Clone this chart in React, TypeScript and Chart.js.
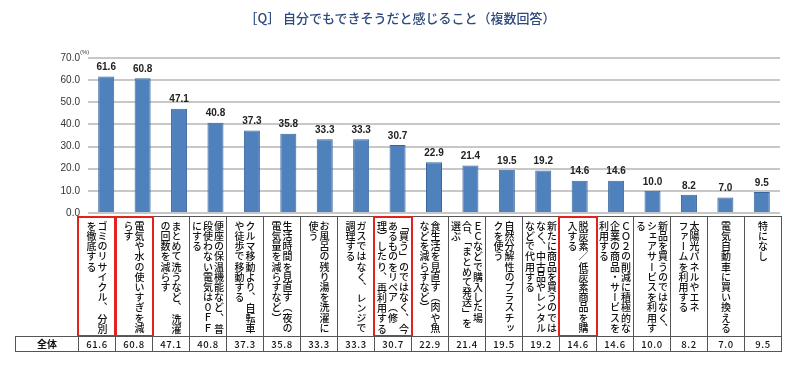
import React, { useEffect, useRef } from "react";
import { Chart, registerables } from "chart.js";

Chart.register(...registerables);

const title = "［Q］ 自分でもできそうだと感じること（複数回答）";
const categories = [
  "ゴミのリサイクル、|分別\nを徹底する",
  "電気や水の使いすぎを減\nらす",
  "まとめて洗うなど、|洗濯\nの回数を減らす",
  "便座の保温機能など、|普\n段使わない電気は０ＦＦ\nにする",
  "クルマ移動より、|自転車\nや徒歩で移動する",
  "生活時間を見直す（夜の\n電気量を減らすなど）",
  "お風呂の残り湯を洗濯に\n使う",
  "ガスではなく、|レンジで\n調理する",
  "「買う」のではなく、|今\nあるものをリペア（修\n理）したり、|再利用する",
  "食生活を見直す（肉や魚\nなどを減らすなど）",
  "ＥＣなどで購入した場\n合、「まとめて発送」を\n選ぶ",
  "自然分解性のプラスチッ\nクを使う",
  "新たに商品を買うのでは\nなく、中古品やレンタル\nなどで代用する",
  "脱炭素／低炭素商品を購\n入する",
  "ＣＯ２の削減に積極的な\n企業の商品・サービスを\n利用する",
  "新品を買うのではなく、\nシェアサービスを利用す\nる",
  "太陽光パネルやエネ\nファームを利用する",
  "電気自動車に買い換える",
  "特になし",
];
const values = [61.6, 60.8, 47.1, 40.8, 37.3, 35.8, 33.3, 33.3, 30.7, 22.9, 21.4, 19.5, 19.2, 14.6, 14.6, 10.0, 8.2, 7.0, 9.5];
const highlighted = [0, 1, 8, 13];
const yMin = 0;
const yMax = 70;
const yStep = 10;
const unitLabel = "(%)";
const totalLabel = "全体";

const CJK = '"Noto Sans CJK JP", "Noto Sans", sans-serif';
const NUM = '"Liberation Sans", Arial, sans-serif';

const COL_LEFT = 78;
const COL_W = 37;
const TABLE_TOP = 216;
const CAT_H = 121;
const TOTAL_H = 16;

const labelPlugin = {
  id: "valueLabels",
  afterDatasetsDraw(chart: any) {
    const ctx = chart.ctx;
    const meta = chart.getDatasetMeta(0);
    ctx.save();
    ctx.font = `bold 10px ${NUM}`;
    ctx.fillStyle = "#222";
    ctx.textAlign = "center";
    ctx.textBaseline = "bottom";
    meta.data.forEach((bar: any, i: number) => {
      ctx.fillText(values[i].toFixed(1), bar.x, bar.y - 4);
    });
    ctx.font = `6px ${NUM}`;
    ctx.textAlign = "left";
    ctx.fillStyle = "#444";
    ctx.fillText(unitLabel, chart.chartArea.left - 8, chart.chartArea.top - 3);
    ctx.restore();
  },
};

export default function App() {
  const ref = useRef<HTMLCanvasElement | null>(null);

  useEffect(() => {
    if (!ref.current) return;
    const chart = new Chart(ref.current, {
      type: "bar",
      data: {
        labels: categories.map((c) => c.replace(/[\n|]/g, "")),
        datasets: [
          {
            data: values,
            backgroundColor: "#4F81BD",
            borderColor: "#3A659A",
            borderWidth: 1,
            categoryPercentage: 1,
            barPercentage: 0.44,
          },
        ],
      },
      options: {
        responsive: false,
        animation: false,
        layout: { padding: { left: 0, right: 20, top: 58, bottom: 152 } },
        plugins: { legend: { display: false }, tooltip: { enabled: false }, title: { display: false } },
        scales: {
          x: { display: false },
          y: {
            min: yMin,
            max: yMax,
            ticks: {
              stepSize: yStep,
              padding: 8,
              color: "#333",
              font: { size: 10, family: NUM },
              callback: (v: any) => Number(v).toFixed(1),
            },
            grid: { color: "#C8C8C8", lineWidth: 2, drawTicks: false },
            border: { display: false },
            afterFit: (s: any) => {
              s.width = 88;
            },
          },
        },
      },
      plugins: [labelPlugin],
    });
    return () => chart.destroy();
  }, []);

  return (
    <div style={{ position: "absolute", left: 0, top: 0, width: 800, height: 365, background: "#fff", overflow: "hidden" }}>
      <canvas ref={ref} width={800} height={365} style={{ position: "absolute", left: 0, top: 0, width: 800, height: 365 }} />
      <div
        style={{
          position: "absolute",
          left: 0,
          top: 8,
          width: 800,
          textAlign: "center",
          fontFamily: CJK,
          fontSize: 13,
          fontWeight: 500,
          lineHeight: "20px",
          color: "#2E4A7D",
        }}
      >
        {title}
      </div>
      {categories.map((c, i) => {
        const cols = c.split("\n");
        return (
          <div
            key={"c" + i}
            style={{
              position: "absolute",
              left: COL_LEFT + i * COL_W,
              top: TABLE_TOP,
              width: COL_W + 1,
              height: CAT_H,
              boxSizing: "border-box",
              border: "1px solid #555",
              display: "flex",
              justifyContent: "center",
              alignItems: "flex-start",
              paddingTop: 4,
            }}
          >
            <div
              style={{
                writingMode: "vertical-rl",
                fontFamily: CJK,
                fontSize: 10,
                fontWeight: 500,
                lineHeight: "11px",
                letterSpacing: "0.2px",
                color: "#111",
                whiteSpace: "nowrap",
              }}
            >
              {cols.map((col, j) =>
                col.includes("|") ? (
                  <div key={j} style={{ display: "flex", justifyContent: "space-between", height: 113, whiteSpace: "nowrap" }}>
                    {col.split("|").map((p, k) => (
                      <span key={k} style={{ flexShrink: 0, whiteSpace: "nowrap" }}>
                        {p}
                      </span>
                    ))}
                  </div>
                ) : (
                  <div key={j} style={{ whiteSpace: "nowrap" }}>
                    {col}
                  </div>
                )
              )}
            </div>
          </div>
        );
      })}
      {highlighted.map((i) => (
        <div
          key={"h" + i}
          style={{
            position: "absolute",
            left: COL_LEFT + i * COL_W - 1,
            top: TABLE_TOP,
            width: COL_W + 3,
            height: CAT_H,
            boxSizing: "border-box",
            border: "2px solid #E0231E",
          }}
        />
      ))}
      <div
        style={{
          position: "absolute",
          left: 15,
          top: TABLE_TOP + CAT_H - 1,
          width: COL_LEFT - 15 + 1,
          height: TOTAL_H,
          boxSizing: "border-box",
          border: "1px solid #555",
          fontFamily: CJK,
          fontSize: 10,
          fontWeight: 700,
          lineHeight: "14px",
          textAlign: "center",
          color: "#111",
        }}
      >
        {totalLabel}
      </div>
      {values.map((v, i) => (
        <div
          key={"v" + i}
          style={{
            position: "absolute",
            left: COL_LEFT + i * COL_W,
            top: TABLE_TOP + CAT_H - 1,
            width: COL_W + 1,
            height: TOTAL_H,
            boxSizing: "border-box",
            border: "1px solid #555",
            fontFamily: CJK,
            fontSize: 9.5,
            fontWeight: 500,
            lineHeight: "14px",
            letterSpacing: "0.6px",
            textAlign: "center",
            color: "#111",
          }}
        >
          {v.toFixed(1)}
        </div>
      ))}
    </div>
  );
}
